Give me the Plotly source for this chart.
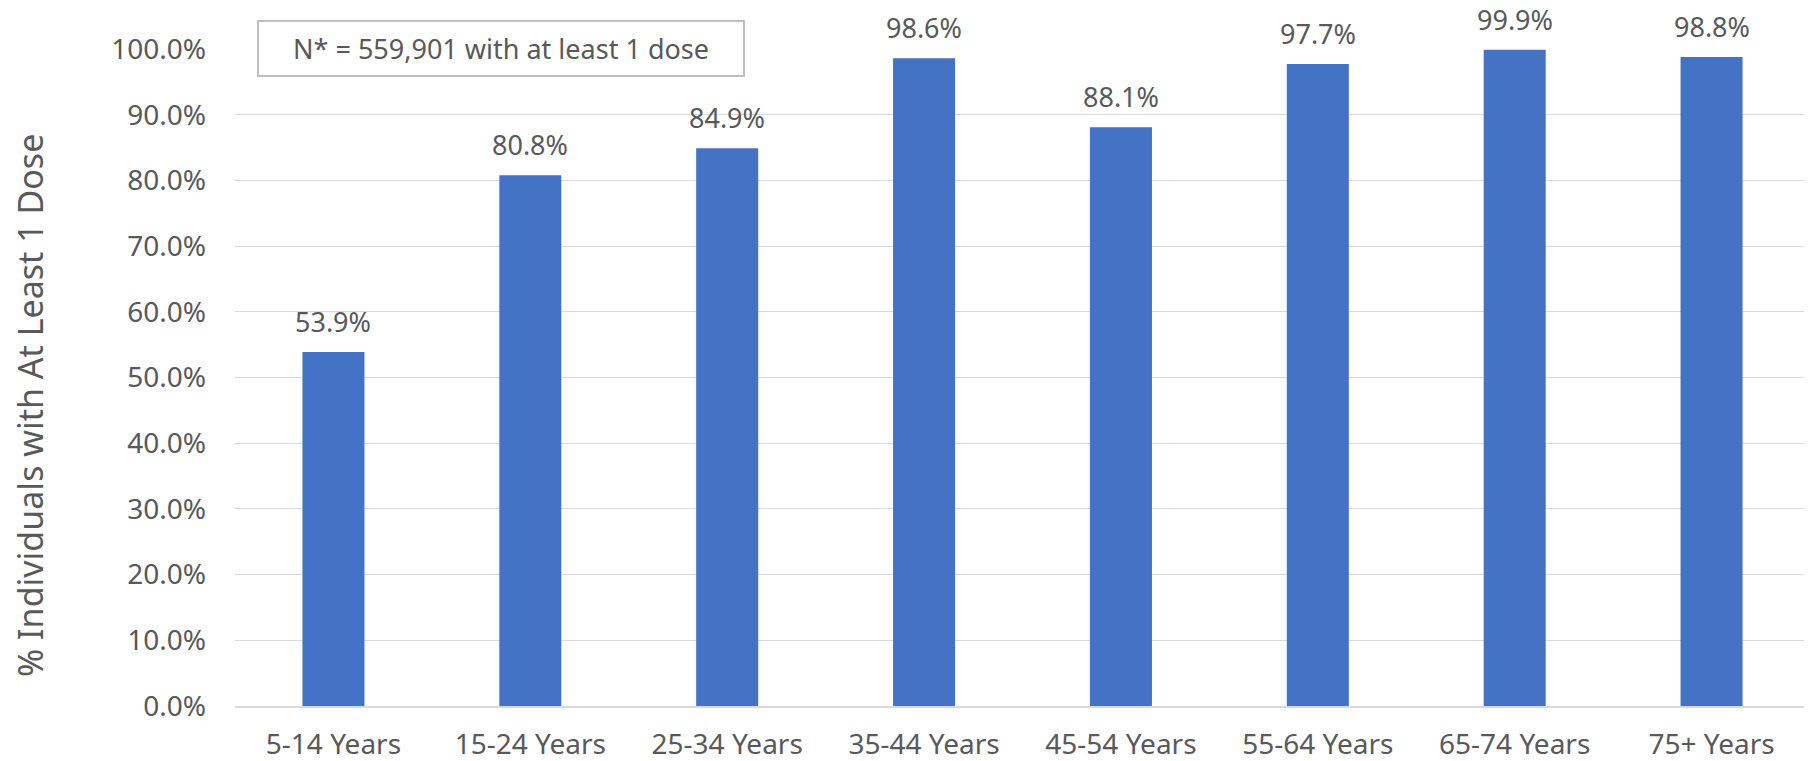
import plotly.graph_objects as go

categories = ["5-14 Years", "15-24 Years", "25-34 Years", "35-44 Years",
              "45-54 Years", "55-64 Years", "65-74 Years", "75+ Years"]
values = [53.9, 80.8, 84.9, 98.6, 88.1, 97.7, 99.9, 98.8]
y_ticks = [0, 10, 20, 30, 40, 50, 60, 70, 80, 90, 100]
y_tick_labels = [f"{v:.1f}%" for v in y_ticks]
labels = [f"{v:.1f}%" for v in values]
note = "N* = 559,901 with at least 1 dose"
y_title = "% Individuals with At Least 1 Dose"

grey = "#595959"
FONT = "Noto Sans, Open Sans, sans-serif"
tick_font = dict(family=FONT, size=28, color=grey)

fig = go.Figure(go.Bar(
    x=categories, y=values,
    marker=dict(color="#4472C4", line=dict(width=0)),
    cliponaxis=False, width=0.315, hoverinfo="x+y",
))

# page has an 8px body margin; figure is sized to fit the window
W, H = 1804, 753
L, R, T, B = 227, 2, 41, 55
PW = W - L - R
PH = H - T - B

annotations = []
for c, v, t in zip(categories, values, labels):
    annotations.append(dict(
        x=c, y=v, xref="x", yref="y", text=t, showarrow=False,
        xanchor="center", yanchor="bottom", yshift=10,
        font=dict(family=FONT, size=27, color=grey),
    ))

annotations.append(dict(
    text=note, xref="paper", yref="paper",
    x=(249 - L) / PW, y=1.0, xanchor="left", yanchor="middle", yshift=1,
    showarrow=False, font=dict(family=FONT, size=27, color=grey),
    bgcolor="white", bordercolor="#bfbfbf", borderwidth=2, borderpad=0,
    width=484, height=53, align="center", valign="middle",
))

annotations.append(dict(
    text=y_title, xref="paper", yref="paper",
    x=(22 - L) / PW, y=(H - B - 397) / PH, xanchor="center", yanchor="middle",
    textangle=-90, showarrow=False,
    font=dict(family=FONT, size=34, color=grey),
))

fig.update_layout(
    width=W, height=H,
    margin=dict(l=L, r=R, t=T, b=B, autoexpand=False),
    plot_bgcolor="white", paper_bgcolor="white",
    showlegend=False,
    xaxis=dict(tickfont=tick_font, showgrid=False, showline=True,
               linecolor="#d9d9d9", linewidth=2, ticks="", automargin=False,
               ticklabelstandoff=12),
    yaxis=dict(range=[0, 100], tickvals=y_ticks, ticktext=y_tick_labels,
               tickfont=tick_font, showgrid=True, gridcolor="#d9d9d9",
               gridwidth=1.3, zeroline=False, ticks="", automargin=False,
               ticklabelstandoff=28),
    annotations=annotations,
)

fig.write_html("out.html")
